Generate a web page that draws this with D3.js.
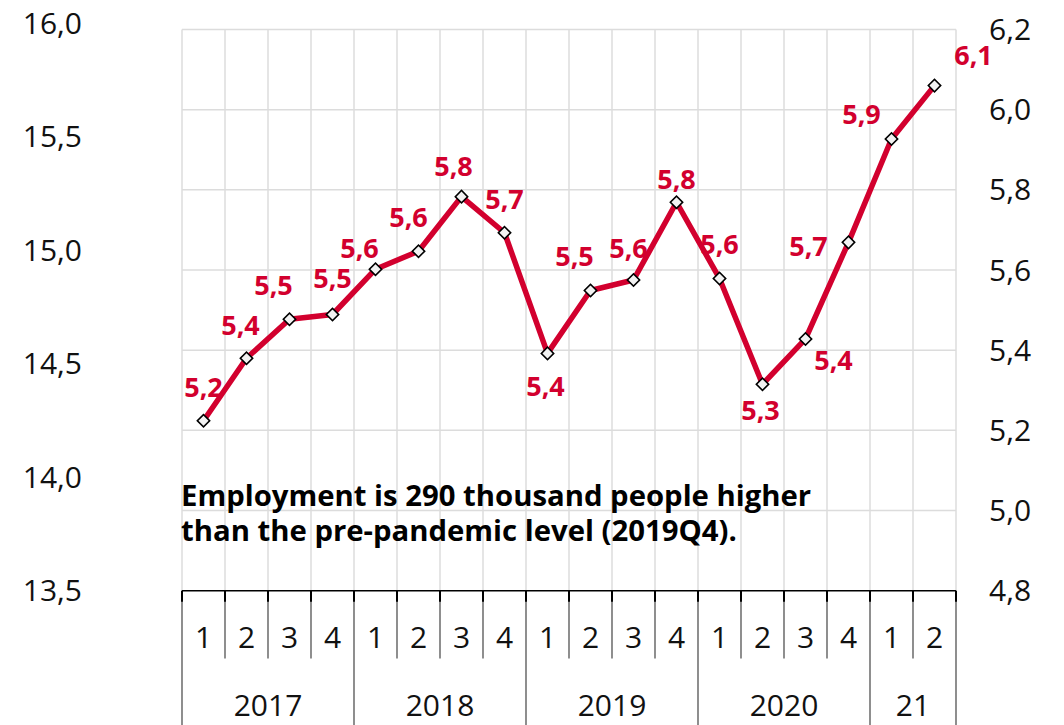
<!DOCTYPE html>
<html>
<head>
<meta charset="utf-8">
<script src="https://cdn.jsdelivr.net/npm/d3@7"></script>
<style>
  html, body { margin: 0; padding: 0; background: #fff; }
  svg { display: block; font-family: "Open Sans", "Noto Sans", sans-serif; }
</style>
</head>
<body>
<svg id="chart" width="1064" height="725"></svg>
<script>
// ---- data ----
const quarters = ["1","2","3","4","1","2","3","4","1","2","3","4","1","2","3","4","1","2"];
const years = [
  { label: "2017", count: 4 },
  { label: "2018", count: 4 },
  { label: "2019", count: 4 },
  { label: "2020", count: 4 },
  { label: "21",   count: 2 }
];
const values = [5.224, 5.38, 5.477, 5.489, 5.602, 5.647, 5.783, 5.693, 5.392,
                5.549, 5.575, 5.769, 5.579, 5.315, 5.428, 5.669, 5.927, 6.06];
const leftTicks = [13.5, 14.0, 14.5, 15.0, 15.5, 16.0];
const rightTicks = [4.8, 5.0, 5.2, 5.4, 5.6, 5.8, 6.0, 6.2];
const noteLines = ["Employment is 290 thousand people higher",
                   "than the pre-pandemic level (2019Q4)."];

// ---- layout (label placements relative to marker) ----
const labelOffsets = [
  [0,-33],[-6,-33],[-16,-34],[0,-36],[-16,-21],[-10,-34],[-8,-30],[0,-33],[-2,33],
  [-16,-34],[-5,-31],[0,-23],[0,-34],[-2,26],[28,22],[-40,4],[-30,-24],[39,-30]
];

const RED = "#d2002e";
const svg = d3.select("#chart");
const x0 = 182, x1 = 956, yTop = 29.5, yBot = 590.7;

const x = d3.scaleBand().domain(d3.range(quarters.length)).range([x0, x1]).padding(0);
const yR = d3.scaleLinear().domain([4.8, 6.2]).range([yBot, yTop]);
const yL = d3.scaleLinear().domain([13.5, 16.0]).range([yBot, 23]);
const fmt = v => d3.format(".1f")(v).replace(".", ",");

// horizontal gridlines
svg.append("g").selectAll("line").data(rightTicks.filter(t => t > 4.8)).join("line")
  .attr("x1", x0).attr("x2", x1)
  .attr("y1", d => yR(d)).attr("y2", d => yR(d))
  .attr("stroke", "#dcdcdc").attr("stroke-width", 1.5);

// vertical gridlines
const bounds = d3.range(quarters.length + 1).map(i => i < quarters.length ? x(i) : x1);
svg.append("g").selectAll("line").data(bounds).join("line")
  .attr("x1", d => d).attr("x2", d => d)
  .attr("y1", yTop).attr("y2", yBot)
  .attr("stroke", "#dcdcdc").attr("stroke-width", 1.5);

// left axis labels
svg.append("g").selectAll("text").data(leftTicks).join("text")
  .attr("x", 82).attr("y", d => yL(d)).attr("dy", "0.35em")
  .attr("text-anchor", "end").attr("font-size", 30).attr("fill", "#111")
  .text(d => fmt(d));

// right axis labels
svg.append("g").selectAll("text").data(rightTicks).join("text")
  .attr("x", 989).attr("y", d => yR(d)).attr("dy", "0.35em")
  .attr("text-anchor", "start").attr("font-size", 30).attr("fill", "#111")
  .text(d => fmt(d));

// category axis
const ax = svg.append("g");
ax.append("line").attr("x1", x0).attr("x2", x1).attr("y1", yBot).attr("y2", yBot)
  .attr("stroke", "#000").attr("stroke-width", 1.5);

// year boundaries
let cum = 0;
const yearBounds = [0];
years.forEach(g => { cum += g.count; yearBounds.push(cum); });
bounds.forEach((bx, i) => {
  const isYear = yearBounds.includes(i);
  ax.append("line").attr("x1", bx).attr("x2", bx)
    .attr("y1", yBot).attr("y2", isYear ? 725 : 658.5)
    .attr("stroke", "#444").attr("stroke-width", 1.2);
  ax.append("line").attr("x1", bx).attr("x2", bx)
    .attr("y1", yBot).attr("y2", yBot + 11)
    .attr("stroke", "#000").attr("stroke-width", 2);
});

// quarter labels
ax.selectAll("text.q").data(quarters).join("text").attr("class", "q")
  .attr("x", (d, i) => x(i) + x.bandwidth() / 2).attr("y", 637).attr("dy", "0.35em")
  .attr("text-anchor", "middle").attr("font-size", 30).attr("fill", "#111")
  .text(d => d);

// year labels
ax.selectAll("text.y").data(years).join("text").attr("class", "y")
  .attr("x", (d, i) => {
    const a = yearBounds[i], b = yearBounds[i + 1];
    const xa = x(a), xb = b < quarters.length ? x(b) : x1;
    return (xa + xb) / 2;
  })
  .attr("y", 705).attr("dy", "0.35em")
  .attr("text-anchor", "middle").attr("font-size", 30).attr("fill", "#111")
  .text(d => d.label);

// line
const line = d3.line().x((d, i) => x(i) + x.bandwidth() / 2).y(d => yR(d));
svg.append("path").datum(values).attr("d", line)
  .attr("fill", "none").attr("stroke", RED).attr("stroke-width", 5.5)
  .attr("stroke-linejoin", "round");

// markers
const sym = d3.symbol().type(d3.symbolSquare).size(76);
svg.append("g").selectAll("path").data(values).join("path")
  .attr("d", sym)
  .attr("transform", (d, i) => `translate(${x(i) + x.bandwidth() / 2},${yR(d)}) rotate(45)`)
  .attr("fill", "#f2f2f2").attr("stroke", "#000").attr("stroke-width", 1.6);

// data labels
svg.append("g").selectAll("text").data(values).join("text")
  .attr("x", (d, i) => x(i) + x.bandwidth() / 2 + labelOffsets[i][0])
  .attr("y", (d, i) => yR(d) + labelOffsets[i][1])
  .attr("dy", "0.35em").attr("text-anchor", "middle")
  .attr("font-size", 27).attr("font-weight", "bold").attr("fill", RED)
  .text(d => fmt(d));

// note
svg.append("g").selectAll("text").data(noteLines).join("text")
  .attr("x", 181).attr("y", (d, i) => 506 + i * 35)
  .attr("font-size", 29.3).attr("font-weight", "bold").attr("fill", "#000")
  .text(d => d);
</script>
</body>
</html>
